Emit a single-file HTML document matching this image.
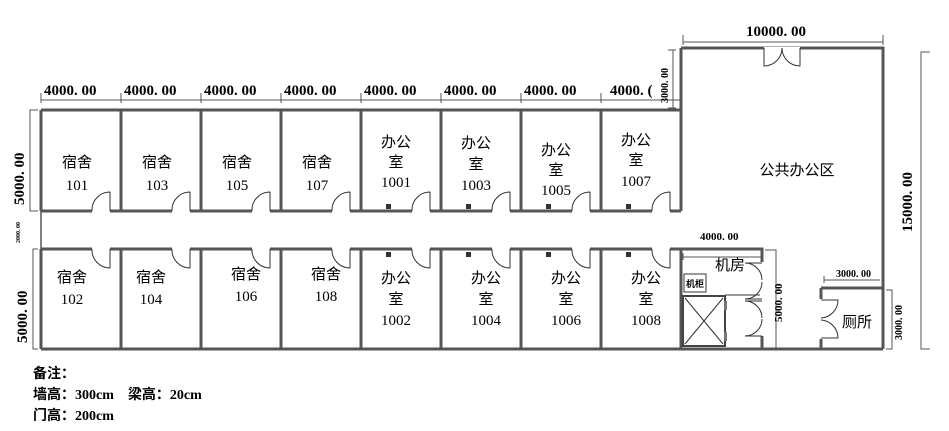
<!DOCTYPE html>
<html><head><meta charset="utf-8"><style>
body{margin:0;background:#fff;width:949px;height:431px;overflow:hidden}
svg{display:block}
.w{stroke:#555;stroke-width:3;fill:none}
.d{stroke:#333;stroke-width:1;fill:none}
.dim{font-family:"Liberation Serif","Noto Serif CJK SC",serif;font-weight:bold;font-size:15px;fill:#000}
.lb{font-family:"Liberation Serif","Noto Sans CJK SC",serif;font-size:15px;fill:#000;text-anchor:middle}
.nt{font-family:"Liberation Serif","Noto Sans CJK SC",serif;font-weight:bold;font-size:14px;fill:#000}
</style></head><body>
<svg width="949" height="431" viewBox="0 0 949 431">
<g id="walls" class="w">
<path d="M41 110 H681 M41 211 H681 M41 249 H681 M41 349 H883 M41 110 V211 M41 249 V349"/>
<path d="M121 110V211M201 110V211M281 110V211M361 110V211M441 110V211M521 110V211M601 110V211"/>
<path d="M121 249V349M201 249V349M281 249V349M361 249V349M441 249V349M521 249V349M601 249V349"/>
<path d="M681 48 H883 V349 M681 48 V211 M681 249 V349 M681 249 H762 V349 M821 288 H883 M821 288 V349"/>
<path d="M41 211 V249" stroke-width="1.5"/>
</g>
<rect x="683" y="296" width="42" height="50" fill="none" stroke="#444" stroke-width="2"/>
<path d="M685 298 L723 344 M723 298 L685 344" class="d"/>
<path d="M725 295 H760" class="d"/>
<rect x="724" y="301" width="3" height="9" fill="#777"/>
<rect x="724" y="332" width="3" height="9" fill="#777"/>
<rect x="684" y="274" width="22" height="18" fill="#fff" stroke="#333"/>
<text x="695" y="287" font-size="9" font-family="Noto Sans CJK SC,sans-serif" text-anchor="middle" font-weight="bold">机柜</text>
<g id="doors" class="d"></g>
<g id="sock"></g>
<g stroke="#555" stroke-width="1" fill="none">
<path d="M41 100H681M41 93V103M121 93V103M201 93V103M281 93V103M361 93V103M441 93V103M521 93V103M601 93V103"/>
<path d="M683 42H883M683 35V45M883 35V45"/>
<path d="M38 110H30V211H38M38 249H33V349H38"/>
<path d="M673 50V108M668 50H676M668 108H676"/>
<path d="M683 257H762M683 253V260M762 253V260"/>
<path d="M765 250H776V349"/>
<path d="M824 280H880M824 276V283"/>
<path d="M886 290H892V349H886"/>
<path d="M930 52H921V349H930"/>
</g>
<g class="dim">
<text x="44" y="95">4000. 00</text><text x="124" y="95">4000. 00</text><text x="204" y="95">4000. 00</text><text x="284" y="95">4000. 00</text>
<text x="364" y="95">4000. 00</text><text x="444" y="95">4000. 00</text><text x="524" y="95">4000. 00</text><text x="610" y="95">4000. (</text>
<text x="746" y="36">10000. 00</text>
<text x="700" y="240" font-size="11">4000. 00</text>
<text x="836" y="277" font-size="10">3000. 00</text>
<text transform="translate(24 205) rotate(-90)" font-size="15">5000. 00</text>
<text transform="translate(27 343) rotate(-90)" font-size="15">5000. 00</text>
<text transform="translate(20 243) rotate(-90)" font-size="6">2000. 00</text>
<text transform="translate(668 103) rotate(-90)" font-size="10">3000. 00</text>
<text transform="translate(782 322) rotate(-90)" font-size="11">5000. 00</text>
<text transform="translate(902 340) rotate(-90)" font-size="10">3000. 00</text>
<text transform="translate(912 232) rotate(-90)" font-size="15">15000. 00</text>
</g>
<g class="lb">
<text x="77" y="167">宿舍</text><text x="77" y="190">101</text>
<text x="157" y="167">宿舍</text><text x="157" y="190">103</text>
<text x="237" y="167">宿舍</text><text x="237" y="190">105</text>
<text x="317" y="167">宿舍</text><text x="317" y="190">107</text>
<text x="72" y="282">宿舍</text><text x="72" y="304">102</text>
<text x="151" y="282">宿舍</text><text x="151" y="304">104</text>
<text x="246" y="279">宿舍</text><text x="246" y="301">106</text>
<text x="326" y="279">宿舍</text><text x="326" y="301">108</text>
<text x="396" y="147">办公</text><text x="396" y="167">室</text><text x="396" y="187">1001</text>
<text x="476" y="148">办公</text><text x="476" y="169">室</text><text x="476" y="190">1003</text>
<text x="556" y="155">办公</text><text x="556" y="175">室</text><text x="556" y="195">1005</text>
<text x="636" y="145">办公</text><text x="636" y="165">室</text><text x="636" y="186">1007</text>
<text x="396" y="283">办公</text><text x="396" y="304">室</text><text x="396" y="325">1002</text>
<text x="486" y="283">办公</text><text x="486" y="304">室</text><text x="486" y="325">1004</text>
<text x="566" y="283">办公</text><text x="566" y="304">室</text><text x="566" y="325">1006</text>
<text x="646" y="283">办公</text><text x="646" y="304">室</text><text x="646" y="325">1008</text>
<text x="797" y="175">公共办公区</text>
<text x="730" y="270">机房</text>
<text x="857" y="327">厕所</text>
</g>
<g class="nt">
<text x="33" y="378">备注：</text>
<text x="33" y="399">墙高：300cm　梁高：20cm</text>
<text x="33" y="420">门高：200cm</text>
</g>
</svg>
<script>
(function(){
var g=document.getElementById('doors'),s=document.getElementById('sock'),h='',k='';
function tp(a){h+='<rect x="'+a+'" y="209" width="18" height="4" fill="#fff" stroke="none"/><path d="M'+(a+18)+' 211V192A18 18 0 0 0 '+a+' 211"/>';}
function bt(a){h+='<rect x="'+a+'" y="247" width="18" height="4" fill="#fff" stroke="none"/><path d="M'+(a+18)+' 249V268A18 18 0 0 1 '+a+' 249"/>';}
[41,121,201,281,361,441,521,601].forEach(function(x){tp(x+51);bt(x+51);});
[361,441,521,601].forEach(function(x){k+='<rect x="'+(x+25)+'" y="204" width="5" height="5" fill="#333"/><rect x="'+(x+25)+'" y="252" width="5" height="5" fill="#333"/>';});
h+='<rect x="764" y="47" width="36" height="4" fill="#fff" stroke="none"/><path d="M764 48V66A18 18 0 0 0 782 48M800 48V66A18 18 0 0 1 782 48"/>';
h+='<rect x="760" y="262" width="4" height="74" fill="#fff" stroke="none"/><path d="M762 263H745A17 17 0 0 1 762 280M762 299H745A17 17 0 0 0 762 282M762 301H745A17 17 0 0 1 762 318M762 336H745A17 17 0 0 0 762 319"/>';
h+='<rect x="819" y="299" width="4" height="40" fill="#fff" stroke="none"/><path d="M821 300H838A18 18 0 0 1 821 318M821 338H838A18 18 0 0 0 821 320"/>';
g.innerHTML=h;s.innerHTML=k;
})();
</script>
</body></html>
